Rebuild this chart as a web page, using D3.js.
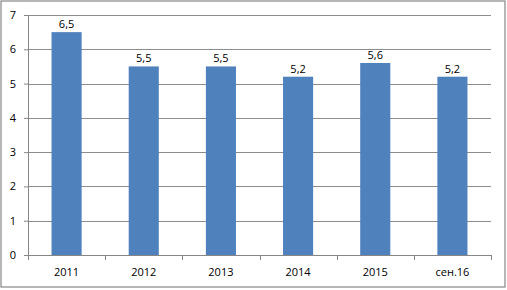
<!DOCTYPE html>
<html>
<head>
<meta charset="utf-8">
<script src="https://cdn.jsdelivr.net/npm/d3@7"></script>
<style>
  body { margin: 0; background: #fff; }
  svg { display: block; font-family: "Open Sans", "DejaVu Sans", sans-serif; }
</style>
</head>
<body>
<div id="vis"></div>
<script>
const categories = ["2011", "2012", "2013", "2014", "2015", "сен.16"];
const values = [6.5, 5.5, 5.5, 5.2, 5.6, 5.2];
const yTicks = [0, 1, 2, 3, 4, 5, 6, 7];

const WIDTH = 507;
const HEIGHT = 290;
const MARGIN = { top: 15, bottom: 35, left: 28, right: 16 };

const SVG = d3.select("#vis").append("svg")
    .attr("width", WIDTH)
    .attr("height", HEIGHT);

// marco exterior
SVG.append("rect")
    .attr("x", 1).attr("y", 1)
    .attr("width", WIDTH - 3).attr("height", HEIGHT - 4)
    .attr("fill", "white")
    .attr("stroke", "#868686")
    .attr("stroke-width", 1.2);

const innerW = WIDTH - MARGIN.left - MARGIN.right;
const innerH = HEIGHT - MARGIN.top - MARGIN.bottom;

const xScale = d3.scaleBand()
    .domain(categories)
    .range([0, innerW]);

const yScale = d3.scaleLinear()
    .domain([0, 7])
    .range([innerH, 0]);

const plot = SVG.append("g")
    .attr("transform", `translate(${MARGIN.left}, ${MARGIN.top})`);

// lineas de grilla
plot.selectAll("line.grid")
    .data(yTicks.filter(d => d > 0))
    .join("line")
    .attr("class", "grid")
    .attr("x1", 0).attr("x2", innerW)
    .attr("y1", d => Math.round(yScale(d)) + 0.5)
    .attr("y2", d => Math.round(yScale(d)) + 0.5)
    .attr("stroke", "#8c8c8c")
    .attr("stroke-width", 1);

// eje y
const ejeY = plot.append("g")
    .call(d3.axisLeft(yScale).tickValues(yTicks).tickFormat(d3.format("d")).tickSize(4).tickPadding(8));
ejeY.selectAll("path, line").attr("stroke", "#868686");
ejeY.selectAll("text").attr("font-size", 11).attr("fill", "#000")
    .attr("font-family", "'Open Sans', sans-serif");

// barras
const barW = xScale.bandwidth() * 0.39;
plot.selectAll("rect.bar")
    .data(categories)
    .join("rect")
    .attr("class", "bar")
    .attr("x", (d, i) => xScale(d) + (xScale.bandwidth() - barW) / 2)
    .attr("y", (d, i) => yScale(values[i]))
    .attr("width", barW)
    .attr("height", (d, i) => innerH - yScale(values[i]))
    .attr("fill", "#4f81bd");

// etiquetas de datos
plot.selectAll("text.label")
    .data(categories)
    .join("text")
    .attr("class", "label")
    .attr("x", d => xScale(d) + xScale.bandwidth() / 2)
    .attr("y", (d, i) => yScale(values[i]) - 4)
    .attr("text-anchor", "middle")
    .attr("font-size", 11)
    .attr("fill", "#000")
    .text((d, i) => String(values[i]).replace(".", ","));

// eje x
const ejeX = plot.append("g")
    .attr("transform", `translate(0, ${innerH})`);
ejeX.append("line")
    .attr("x1", 0).attr("x2", innerW)
    .attr("y1", 0.5).attr("y2", 0.5)
    .attr("stroke", "#868686");
ejeX.selectAll("line.tick")
    .data(d3.range(categories.length + 1))
    .join("line")
    .attr("class", "tick")
    .attr("x1", i => Math.round(i * xScale.step()) + 0.5)
    .attr("x2", i => Math.round(i * xScale.step()) + 0.5)
    .attr("y1", 0).attr("y2", 5)
    .attr("stroke", "#868686");
ejeX.selectAll("text")
    .data(categories)
    .join("text")
    .attr("x", d => xScale(d) + xScale.bandwidth() / 2)
    .attr("y", 21)
    .attr("text-anchor", "middle")
    .attr("font-size", 11)
    .attr("fill", "#000")
    .text(d => d);
</script>
</body>
</html>
